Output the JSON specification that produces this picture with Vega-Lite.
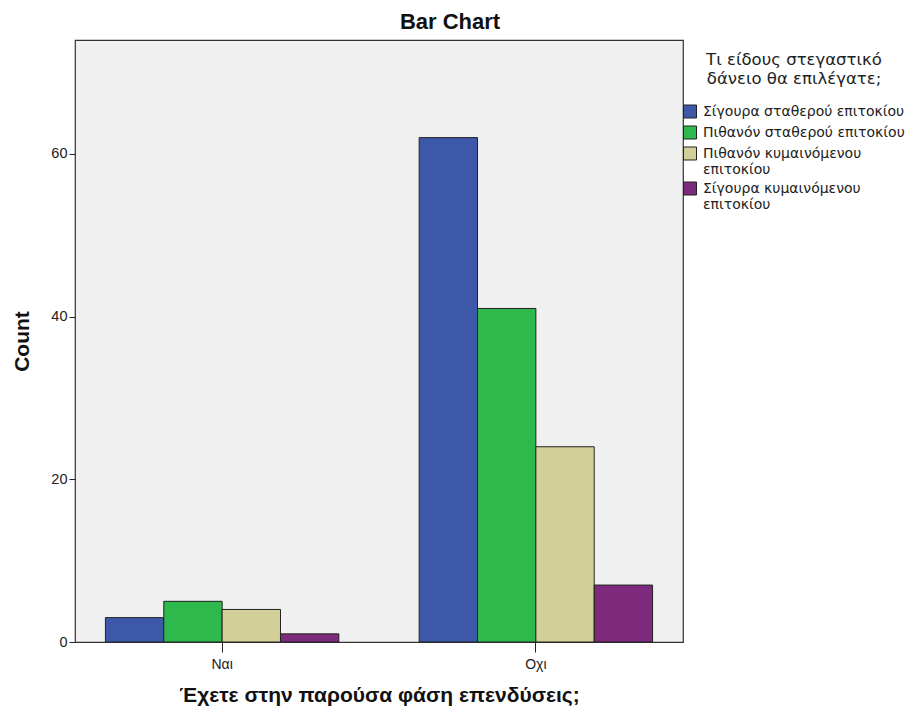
{
  "$schema": "https://vega.github.io/schema/vega-lite/v6.json",
  "autosize": {"type": "none"},
  "padding": {"left": 75, "top": 40, "right": 223, "bottom": 69},
  "width": 608,
  "height": 602,
  "background": "white",
  "title": {"text": "Bar Chart", "font": "Liberation Sans", "fontSize": 22, "fontWeight": "bold", "color": "#111", "offset": 6, "anchor": "middle", "dx": 71},
  "config": {
    "font": "Liberation Sans",
    "view": {"fill": "#f0f0f0", "stroke": "#333", "strokeWidth": 1.2}
  },
  "data": {"values": [
    {"invest": "Ναι", "loan": "Σίγουρα σταθερού επιτοκίου", "count": 3},
    {"invest": "Ναι", "loan": "Πιθανόν σταθερού επιτοκίου", "count": 5},
    {"invest": "Ναι", "loan": "Πιθανόν κυμαινόμενου επιτοκίου", "count": 4},
    {"invest": "Ναι", "loan": "Σίγουρα κυμαινόμενου επιτοκίου", "count": 1},
    {"invest": "Οχι", "loan": "Σίγουρα σταθερού επιτοκίου", "count": 62},
    {"invest": "Οχι", "loan": "Πιθανόν σταθερού επιτοκίου", "count": 41},
    {"invest": "Οχι", "loan": "Πιθανόν κυμαινόμενου επιτοκίου", "count": 24},
    {"invest": "Οχι", "loan": "Σίγουρα κυμαινόμενου επιτοκίου", "count": 7}
  ]},
  "mark": {"type": "bar", "stroke": "#222", "strokeWidth": 1},
  "encoding": {
    "x": {
      "field": "invest", "type": "nominal", "sort": ["Ναι", "Οχι"],
      "scale": {"paddingInner": 0.256, "paddingOuter": 0.097},
      "axis": {"title": "Έχετε στην παρούσα φάση επενδύσεις;", "titleFontSize": 21, "titleFontWeight": "bold", "titleColor": "#111", "titlePadding": 13, "labelAngle": 0, "labelFontSize": 14, "labelColor": "#222", "labelPadding": 5, "tickSize": 10, "tickColor": "#222", "domain": false}
    },
    "xOffset": {"field": "loan", "type": "nominal", "sort": ["Σίγουρα σταθερού επιτοκίου", "Πιθανόν σταθερού επιτοκίου", "Πιθανόν κυμαινόμενου επιτοκίου", "Σίγουρα κυμαινόμενου επιτοκίου"], "scale": {"paddingInner": 0, "paddingOuter": 0}},
    "y": {
      "field": "count", "type": "quantitative",
      "scale": {"domain": [0, 74], "nice": false},
      "axis": {"title": "Count", "titleFontSize": 21, "titleFontWeight": "bold", "titleColor": "#111", "titlePadding": 18, "values": [0, 20, 40, 60], "grid": false, "labelFontSize": 14.5, "labelColor": "#222", "labelPadding": 2, "tickSize": 6, "tickColor": "#222", "domain": false}
    },
    "color": {
      "field": "loan", "type": "nominal",
      "sort": ["Σίγουρα σταθερού επιτοκίου", "Πιθανόν σταθερού επιτοκίου", "Πιθανόν κυμαινόμενου επιτοκίου", "Σίγουρα κυμαινόμενου επιτοκίου"],
      "scale": {"domain": ["Σίγουρα σταθερού επιτοκίου", "Πιθανόν σταθερού επιτοκίου", "Πιθανόν κυμαινόμενου επιτοκίου", "Σίγουρα κυμαινόμενου επιτοκίου"], "range": ["#3e58a9", "#2fb84c", "#d3cf99", "#7d2a7c"]},
      "legend": {
        "orient": "none", "legendX": 608, "legendY": 12,
        "title": ["Τι είδους στεγαστικό", "δάνειο θα επιλέγατε;"],
        "titleFont": "DejaVu Sans", "titleFontSize": 16.5, "titleFontWeight": "normal", "titleColor": "#222", "titlePadding": 17, "titleAnchor": "middle", "titleLineHeight": 19,
        "symbolType": "square", "symbolSize": 169, "symbolStrokeColor": "#222", "symbolStrokeWidth": 1, "symbolOpacity": 1,
        "labelFont": "DejaVu Sans", "labelFontSize": 14, "labelColor": "#222", "labelOffset": 6, "labelLimit": 300, "labelLineHeight": 15,
        "labelExpr": "length(datum.label) > 28 ? [slice(datum.label, 0, indexof(datum.label, ' επιτοκίου')), 'επιτοκίου'] : datum.label",
        "rowPadding": 3, "padding": 0
      }
    }
  }
}
